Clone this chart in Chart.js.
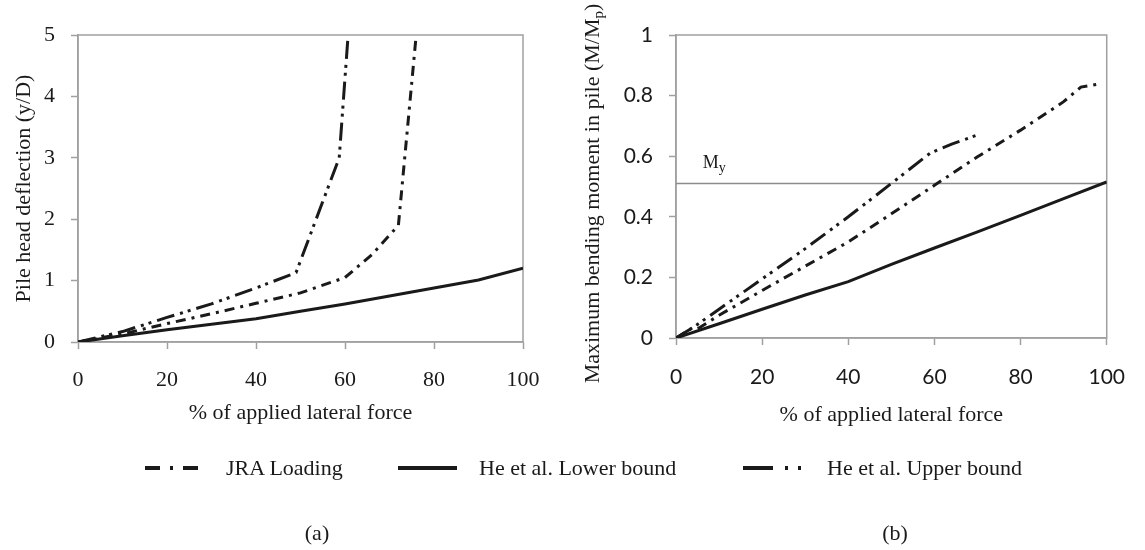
<!DOCTYPE html>
<html><head><meta charset="utf-8">
<script src="https://cdn.jsdelivr.net/npm/chart.js@4.4.1/dist/chart.umd.min.js"></script>
<style>
html,body{margin:0;padding:0;background:#fff;}
body{width:1145px;height:550px;overflow:hidden;position:relative;font-family:"Liberation Serif","Times New Roman",serif;color:#1a1a1a}
#c1{position:absolute;left:0;top:0}
#c2{position:absolute;left:575px;top:0}
.t{position:absolute;font-size:22px;line-height:1;white-space:nowrap;transform:translateY(-50%)}
.c{transform:translate(-50%,-50%)}
svg{position:absolute;left:0;top:0}
</style></head><body>
<canvas id="c1" width="570" height="440"></canvas>
<canvas id="c2" width="570" height="440"></canvas>
<svg width="1145" height="550">
  <g stroke="#1a1a1a" stroke-width="4" fill="none">
    <line x1="145" y1="468" x2="198" y2="468" stroke-dasharray="15 10 3 10 15"/>
    <line x1="398" y1="468" x2="457" y2="468"/>
    <line x1="743" y1="468" x2="803" y2="468" stroke-dasharray="30 12 3 10 3 10"/>
  </g>
</svg>
<div class="t" style="left:226px;top:468px">JRA Loading</div>
<div class="t" style="left:479px;top:468px">He et al. Lower bound</div>
<div class="t" style="left:827px;top:468px">He et al. Upper bound</div>
<div class="t c" style="left:317px;top:533px">(a)</div>
<div class="t c" style="left:895px;top:533px">(b)</div>
<script>
// ---- data ----
const forceTicks = [0, 20, 40, 60, 80, 100];
const deflTicks = [0, 1, 2, 3, 4, 5];
const momentTicks = [0, 0.2, 0.4, 0.6, 0.8, 1];
const momentTickLabels = ['0', '0.2', '0.4', '0.6', '0.8', '1'];

// (a) pile head deflection y/D
const deflJraX   = [0, 10, 20, 30, 40, 50, 60, 66, 72, 76];
const deflJraY   = [0, 0.13, 0.30, 0.46, 0.63, 0.80, 1.05, 1.42, 1.90, 5.0];
const deflLowerX = [0, 10, 20, 30, 40, 50, 60, 70, 80, 90, 100];
const deflLowerY = [0, 0.10, 0.20, 0.29, 0.38, 0.50, 0.62, 0.75, 0.88, 1.01, 1.20];
const deflUpperX = [0, 10, 20, 30, 40, 49, 58.7, 60.7];
const deflUpperY = [0, 0.17, 0.40, 0.62, 0.88, 1.13, 3.0, 5.0];

// (b) maximum bending moment M/Mp
const momJraX   = [0, 4, 5, 10, 20, 30, 40, 50, 60, 70, 80, 90, 94, 98];
const momJraY   = [0, 0.035, 0.03, 0.075, 0.157, 0.237, 0.317, 0.41, 0.504, 0.598, 0.686, 0.78, 0.828, 0.838];
const momLowerX = [0, 10, 20, 30, 40, 50, 60, 70, 80, 90, 100];
const momLowerY = [0, 0.047, 0.095, 0.142, 0.186, 0.243, 0.297, 0.35, 0.405, 0.46, 0.515];
const momUpperX = [0, 4, 10, 20, 30, 40, 50, 59, 64, 70];
const momUpperY = [0, 0.035, 0.095, 0.195, 0.295, 0.40, 0.51, 0.61, 0.64, 0.67];
const myLevel = 0.51;
const myLineX = [0, 100];
const myLabelX = 6.2;

// ---- helpers ----
const pts = (xs, ys) => xs.map((x, i) => ({x, y: ys[i]}));
const AX = '#a0a0a0', INK = '#1a1a1a';
const SERIF = '"Liberation Serif","Times New Roman",serif';
const SANS = 'Lato, "Liberation Sans", sans-serif';
const jraDash = [10, 6, 3, 6];
const upperDash = [18, 6, 3, 5, 3, 6];

function series(label, xs, ys, dash, w) {
  return {label, data: pts(xs, ys), borderColor: INK, borderWidth: w || 3,
    borderDash: dash || [], pointRadius: 0, tension: 0, fill: false, borderCapStyle: 'butt'};
}

const boxPlugin = {
  id: 'box',
  beforeDatasetsDraw(chart) {
    const a = chart.chartArea, ctx = chart.ctx;
    ctx.save(); ctx.strokeStyle = AX; ctx.lineWidth = 1.5;
    ctx.strokeRect(a.left, a.top, a.right - a.left, a.bottom - a.top);
    ctx.restore();
  }
};

function xScale(tickFont, pad, h) {
  return {
    type: 'linear', min: 0, max: 100,
    afterBuildTicks: s => { s.ticks = forceTicks.map(v => ({value: v})); },
    grid: {drawOnChartArea: false, drawTicks: true, tickLength: 7, tickColor: AX, tickWidth: 1.5},
    border: {color: AX, width: 1.5},
    ticks: {font: tickFont, color: INK, padding: pad, maxRotation: 0},
    title: {display: true, text: '% of applied lateral force', font: {family: SERIF, size: 22}, color: INK, padding: 0},
    afterFit: s => { s.height = h; }
  };
}
function yScale(ticks, labels, max, tickFont, w, title) {
  return {
    type: 'linear', min: 0, max: max,
    afterBuildTicks: s => { s.ticks = ticks.map(v => ({value: v})); },
    grid: {drawOnChartArea: false, drawTicks: true, tickLength: 7, tickColor: AX, tickWidth: 1.5},
    border: {color: AX, width: 1.5},
    ticks: {font: tickFont, color: INK, padding: 16,
      callback: (v, i) => labels ? labels[i] : String(v)},
    title: title,
    afterFit: s => { s.width = w; }
  };
}

const common = {
  responsive: false, animation: false, devicePixelRatio: 1,
  plugins: {legend: {display: false}, tooltip: {enabled: false}},
};

new Chart(document.getElementById('c1'), {
  type: 'line',
  data: {datasets: [
    series('JRA Loading', deflJraX, deflJraY, jraDash),
    series('He et al. Lower bound', deflLowerX, deflLowerY),
    series('He et al. Upper bound', deflUpperX, deflUpperY, upperDash)
  ]},
  options: Object.assign({}, common, {
    layout: {padding: {left: 0, right: 47, top: 35, bottom: 14}},
    scales: {
      x: xScale({family: SERIF, size: 22}, 18, 84),
      y: yScale(deflTicks, null, 5, {family: SERIF, size: 22}, 78,
        {display: true, text: 'Pile head deflection (y/D)', font: {family: SERIF, size: 22}, color: INK, padding: {top: 11, bottom: 0}})
    }
  }),
  plugins: [boxPlugin]
});

const momentExtras = {
  id: 'momentExtras',
  afterDraw(chart) {
    const ctx = chart.ctx, sx = chart.scales.x, sy = chart.scales.y;
    ctx.save();
    ctx.fillStyle = INK;
    // M_y label
    const lx = sx.getPixelForValue(myLabelX), ly = sy.getPixelForValue(myLevel) - 15;
    ctx.font = '18px ' + SERIF; ctx.textBaseline = 'alphabetic'; ctx.textAlign = 'left';
    ctx.fillText('M', lx, ly);
    const mw = ctx.measureText('M').width;
    ctx.font = '14px ' + SERIF;
    ctx.fillText('y', lx + mw, ly + 4);
    // rotated y title with subscript
    const main = 'Maximum bending moment in pile (M/M', sub = 'p', end = ')';
    ctx.font = '22px ' + SERIF; const w1 = ctx.measureText(main).width, w3 = ctx.measureText(end).width;
    ctx.font = '15px ' + SERIF; const w2 = ctx.measureText(sub).width;
    const total = w1 + w2 + w3;
    ctx.translate(18, (sy.top + sy.bottom) / 2 + 7);
    ctx.rotate(-Math.PI / 2);
    let x = -total / 2;
    ctx.textBaseline = 'middle';
    ctx.font = '22px ' + SERIF; ctx.fillText(main, x, 0); x += w1;
    ctx.font = '15px ' + SERIF; ctx.fillText(sub, x, 6); x += w2;
    ctx.font = '22px ' + SERIF; ctx.fillText(end, x, 0);
    ctx.restore();
  }
};

new Chart(document.getElementById('c2'), {
  type: 'line',
  data: {datasets: [
    series('JRA Loading', momJraX, momJraY, jraDash),
    series('He et al. Lower bound', momLowerX, momLowerY),
    series('He et al. Upper bound', momUpperX, momUpperY, upperDash),
    {label: 'My', data: pts(myLineX, myLineX.map(() => myLevel)), borderColor: '#8c8c8c', borderWidth: 1.5, pointRadius: 0}
  ]},
  options: Object.assign({}, common, {
    layout: {padding: {left: 0, right: 31, top: 35, bottom: 12}},
    scales: {
      x: xScale({family: SANS, size: 21}, 20, 90),
      y: yScale(momentTicks, momentTickLabels, 1, {family: SANS, size: 21}, 101, {display: false})
    }
  }),
  plugins: [boxPlugin, momentExtras]
});
</script>
</body></html>
